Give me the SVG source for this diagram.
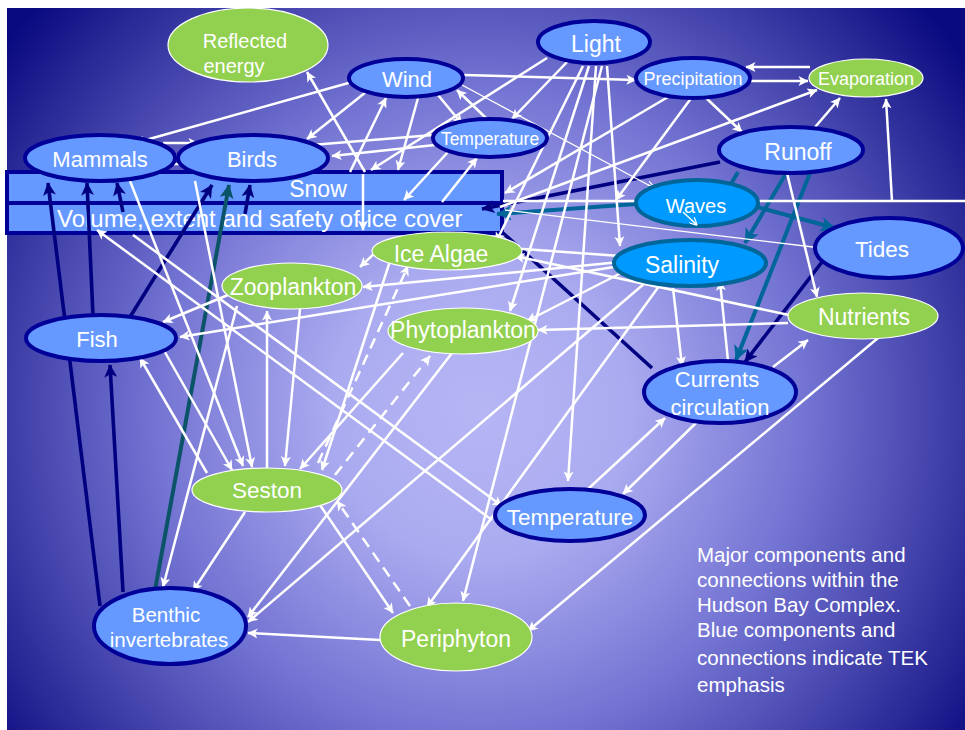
<svg xmlns="http://www.w3.org/2000/svg" width="965" height="730" viewBox="0 0 965 730">
<defs>
<radialGradient id="bg" gradientUnits="userSpaceOnUse" cx="480" cy="410" r="600">
<stop offset="0" stop-color="#b6b6f5"/>
<stop offset="0.25" stop-color="#aaaaf0"/>
<stop offset="0.55" stop-color="#7272d2"/>
<stop offset="0.8" stop-color="#3a3aa4"/>
<stop offset="1" stop-color="#0a0a80"/>
</radialGradient>
<marker id="aw" viewBox="0 0 10 10" refX="9.5" refY="5" markerWidth="11" markerHeight="10" markerUnits="userSpaceOnUse" orient="auto"><path d="M0,0 L10,5 L0,10 L2.5,5 z" fill="#fff"/></marker>
<marker id="aws" viewBox="0 0 10 10" refX="9.5" refY="5" markerWidth="8" markerHeight="8" markerUnits="userSpaceOnUse" orient="auto"><path d="M0,0 L10,5 L0,10 M10,5 L0,5" fill="none" stroke="#fff" stroke-width="1.5"/></marker>
<marker id="an" viewBox="0 0 10 10" refX="9.5" refY="5" markerWidth="15" markerHeight="13" markerUnits="userSpaceOnUse" orient="auto"><path d="M0,0 L10,5 L0,10 L2.5,5 z" fill="#000080"/></marker>
<marker id="at" viewBox="0 0 10 10" refX="9.5" refY="5" markerWidth="17" markerHeight="15" markerUnits="userSpaceOnUse" orient="auto"><path d="M0,0 L10,5 L0,10 L2.5,5 z" fill="#006699"/></marker>
<marker id="atd" viewBox="0 0 10 10" refX="9.5" refY="5" markerWidth="16" markerHeight="14" markerUnits="userSpaceOnUse" orient="auto"><path d="M0,0 L10,5 L0,10 L2.5,5 z" fill="#0b5468"/></marker>
<style>
.bl{fill:#6699ff;stroke:#000099;stroke-width:4}
.aq{fill:#0099ff;stroke:#006699;stroke-width:4}
.gr{fill:#92d050;stroke:#ffffff;stroke-width:1.2}
text{font-family:"Liberation Sans",Arial,sans-serif;fill:#ffffff;text-anchor:middle}
.cap{text-anchor:start;font-size:20.5px}
.w{stroke:#ffffff;stroke-width:2.5;fill:none;marker-end:url(#aw)}
.wn{stroke:#ffffff;stroke-width:2.5;fill:none}
.wt{stroke:#ffffff;stroke-width:1.4;fill:none}
.wd{stroke:#ffffff;stroke-width:2.5;fill:none;stroke-dasharray:11 7;marker-end:url(#aw)}
.n{stroke:#000080;stroke-width:3.6;fill:none;marker-end:url(#an)}
.nn{stroke:#000080;stroke-width:3.6;fill:none}
.t{stroke:#006699;stroke-width:4;fill:none;marker-end:url(#at)}
.tn{stroke:#006699;stroke-width:4;fill:none}
.td{stroke:#0b5468;stroke-width:4;fill:none;marker-end:url(#atd)}
</style>
</defs>
<rect x="0" y="0" width="965" height="730" fill="#ffffff"/>
<rect x="7" y="8" width="958" height="722" fill="url(#bg)"/>

<g id="ice-cover">
<rect x="7" y="172" width="495" height="31" fill="#6699ff" stroke="#000099" stroke-width="4"/>
<rect x="7" y="203" width="495" height="30" fill="#6699ff" stroke="#000099" stroke-width="4"/>
<text x="318" y="197" font-size="23">Snow</text>
<text x="57" y="227" font-size="24" style="text-anchor:start">Volume, extent and safety of ice cover</text>
</g>

<g id="connectors">
<line class="n" x1="100" y1="606" x2="48" y2="183"/>
<line class="n" x1="93" y1="316" x2="87" y2="183"/>
<line class="n" x1="123" y1="212" x2="117" y2="183"/>
<line class="n" x1="123" y1="592" x2="110" y2="365"/>
<line class="n" x1="130" y1="317" x2="212" y2="185"/>
<line class="n" x1="245" y1="214" x2="250" y2="185"/>
<line class="n" x1="720" y1="162" x2="482" y2="209"/>
<line class="nn" x1="652" y1="368" x2="503" y2="233"/>
<line class="n" x1="822" y1="262" x2="745" y2="362"/>
<line class="td" x1="155" y1="590" x2="229" y2="185"/>
<line class="tn" x1="738" y1="172" x2="731" y2="184"/>
<line class="t" x1="636" y1="204" x2="497" y2="214"/>
<line class="t" x1="788" y1="170" x2="745" y2="243"/>
<line class="t" x1="812" y1="168" x2="736" y2="360"/>
<line class="t" x1="757" y1="207" x2="835" y2="228"/>
<line class="w" x1="352" y1="82" x2="135" y2="143"/>
<line class="w" x1="433" y1="135" x2="152" y2="158"/>
<line class="w" x1="435" y1="145" x2="332" y2="156"/>
<line class="w" x1="163" y1="143" x2="198" y2="143"/>
<line class="w" x1="192" y1="164" x2="158" y2="164"/>
<line class="w" x1="365" y1="172" x2="307" y2="72"/>
<line class="w" x1="366" y1="92" x2="307" y2="139"/>
<line class="w" x1="363" y1="174" x2="363" y2="230"/>
<line class="w" x1="464" y1="75" x2="636" y2="80"/>
<line class="wt" x1="462" y1="85" x2="654" y2="188" marker-end="url(#aws)"/>
<line class="w" x1="438" y1="95" x2="462" y2="124"/>
<line class="w" x1="487" y1="119" x2="457" y2="90"/>
<line class="w" x1="350" y1="172" x2="386" y2="98"/>
<line class="w" x1="418" y1="98" x2="398" y2="170"/>
<line class="w" x1="448" y1="152" x2="404" y2="200"/>
<line class="w" x1="442" y1="202" x2="477" y2="158"/>
<line class="w" x1="547" y1="58" x2="371" y2="170"/>
<line class="w" x1="568" y1="61" x2="512" y2="119"/>
<line class="w" x1="810" y1="67" x2="746" y2="67"/>
<line class="w" x1="750" y1="81" x2="808" y2="81"/>
<line class="w" x1="705" y1="97" x2="742" y2="132"/>
<line class="w" x1="810" y1="133" x2="840" y2="98"/>
<line class="w" x1="500" y1="207" x2="817" y2="90"/>
<line class="w" x1="668" y1="97" x2="505" y2="193"/>
<line class="w" x1="692" y1="97" x2="616" y2="200"/>
<line class="wn" x1="503" y1="201" x2="965" y2="201"/>
<line class="w" x1="892" y1="201" x2="886" y2="99"/>
<line class="w" x1="583" y1="66" x2="496" y2="242"/>
<line class="w" x1="589" y1="66" x2="510" y2="311"/>
<line class="w" x1="596" y1="66" x2="568" y2="481"/>
<line class="w" x1="602" y1="66" x2="463" y2="601"/>
<line class="w" x1="607" y1="66" x2="620" y2="246"/>
<line class="wt" x1="505" y1="210" x2="813" y2="247"/>
<line class="w" x1="620" y1="256" x2="509" y2="248"/>
<line class="w" x1="789" y1="315" x2="515" y2="256"/>
<line class="w" x1="378" y1="250" x2="360" y2="267"/>
<line class="w" x1="620" y1="262" x2="363" y2="287"/>
<line class="w" x1="620" y1="266" x2="180" y2="337"/>
<line class="w" x1="228" y1="295" x2="163" y2="322"/>
<line class="w" x1="267" y1="468" x2="267" y2="311"/>
<line class="w" x1="300" y1="309" x2="285" y2="466"/>
<line class="w" x1="237" y1="306" x2="163" y2="587"/>
<line class="w" x1="162" y1="347" x2="232" y2="470"/>
<line class="w" x1="207" y1="473" x2="140" y2="358"/>
<line class="w" x1="130" y1="181" x2="243" y2="466"/>
<line class="w" x1="195" y1="181" x2="252" y2="467"/>
<line class="w" x1="392" y1="255" x2="322" y2="470"/>
<line class="w" x1="403" y1="353" x2="300" y2="469"/>
<line class="wd" x1="318" y1="463" x2="408" y2="266"/>
<line class="wd" x1="335" y1="475" x2="430" y2="356"/>
<line class="wd" x1="410" y1="606" x2="337" y2="501"/>
<line class="w" x1="320" y1="505" x2="393" y2="613"/>
<line class="w" x1="245" y1="512" x2="193" y2="591"/>
<line class="w" x1="452" y1="353" x2="248" y2="617"/>
<line class="w" x1="645" y1="283" x2="248" y2="622"/>
<line class="w" x1="380" y1="640" x2="248" y2="633"/>
<line class="w" x1="878" y1="338" x2="528" y2="631"/>
<line class="w" x1="662" y1="282" x2="427" y2="607"/>
<line class="w" x1="697" y1="422" x2="623" y2="494"/>
<line class="w" x1="588" y1="489" x2="665" y2="418"/>
<line class="w" x1="773" y1="367" x2="808" y2="340"/>
<line class="w" x1="673" y1="288" x2="682" y2="366"/>
<line class="w" x1="728" y1="361" x2="720" y2="281"/>
<line class="w" x1="787" y1="173" x2="817" y2="297"/>
<line class="w" x1="788" y1="323" x2="538" y2="330"/>
<line class="w" x1="625" y1="271" x2="527" y2="321"/>
<line class="w" x1="133" y1="235" x2="502" y2="506"/>
<line class="w" x1="492" y1="520" x2="97" y2="230"/>
</g>

<g id="reflected-energy"><ellipse class="gr" cx="248" cy="45" rx="80" ry="37"/><text x="245" y="48" font-size="20">Reflected</text><text x="234" y="73" font-size="20">energy</text></g>
<g id="light"><ellipse class="bl" cx="594" cy="42" rx="56" ry="21"/><text x="596" y="52" font-size="23">Light</text></g>
<g id="wind"><ellipse class="bl" cx="406" cy="78" rx="57" ry="19"/><text x="407" y="87" font-size="22">Wind</text></g>
<g id="precipitation"><ellipse class="bl" cx="693" cy="78" rx="57" ry="20"/><text x="693" y="85" font-size="18">Precipitation</text></g>
<g id="evaporation"><ellipse class="gr" cx="866" cy="78" rx="57" ry="19"/><text x="866" y="85" font-size="18">Evaporation</text></g>
<g id="temperature-air"><ellipse class="bl" cx="490" cy="138" rx="57" ry="19"/><text x="490" y="145" font-size="17.5">Temperature</text></g>
<g id="mammals"><ellipse class="bl" cx="100" cy="158" rx="75" ry="23"/><text x="100" y="167" font-size="22">Mammals</text></g>
<g id="birds"><ellipse class="bl" cx="253" cy="158" rx="75" ry="23"/><text x="252" y="167" font-size="22">Birds</text></g>
<g id="runoff"><ellipse class="bl" cx="791" cy="150" rx="72" ry="23"/><text x="798" y="160" font-size="23">Runoff</text></g>
<g id="waves"><ellipse class="aq" cx="697" cy="203" rx="61" ry="23"/><text x="696" y="213" font-size="20">Waves</text></g>
<g id="tides"><ellipse class="bl" cx="889" cy="248" rx="74" ry="30"/><text x="882" y="257" font-size="22.5">Tides</text></g>
<g id="salinity"><ellipse class="aq" cx="690" cy="263" rx="76" ry="23"/><text x="682" y="273" font-size="23">Salinity</text></g>
<g id="ice-algae"><ellipse class="gr" cx="447" cy="251" rx="75" ry="19"/><text x="441" y="262" font-size="23">Ice Algae</text></g>
<g id="zooplankton"><ellipse class="gr" cx="292" cy="286" rx="70" ry="23"/><text x="293" y="295" font-size="23">Zooplankton</text></g>
<g id="phytoplankton"><ellipse class="gr" cx="463" cy="331" rx="75" ry="23"/><text x="463" y="338" font-size="23">Phytoplankton</text></g>
<g id="fish"><ellipse class="bl" cx="101" cy="338" rx="75" ry="23"/><text x="97" y="347" font-size="22">Fish</text></g>
<g id="nutrients"><ellipse class="gr" cx="863" cy="316" rx="75" ry="23"/><text x="864" y="325" font-size="23">Nutrients</text></g>
<g id="currents"><ellipse class="bl" cx="720" cy="392" rx="76" ry="31"/><text x="717" y="387" font-size="22">Currents</text><text x="720" y="415" font-size="22">circulation</text></g>
<g id="seston"><ellipse class="gr" cx="267" cy="490" rx="75" ry="22"/><text x="267" y="498" font-size="22.5">Seston</text></g>
<g id="temperature-water"><ellipse class="bl" cx="570" cy="515" rx="75" ry="26"/><text x="570" y="525" font-size="22.5">Temperature</text></g>
<g id="benthic"><ellipse class="bl" cx="170" cy="626" rx="76" ry="38"/><text x="166" y="622" font-size="20.5">Benthic</text><text x="169" y="647" font-size="20.5">invertebrates</text></g>
<g id="periphyton"><ellipse class="gr" cx="456" cy="637" rx="76" ry="34"/><text x="456" y="647" font-size="23">Periphyton</text></g>

<g id="connectors-over">
<line class="wt" x1="683" y1="212" x2="697" y2="225" marker-end="url(#aws)"/>
</g>

<g id="caption">
<text class="cap" x="697" y="562">Major components and</text>
<text class="cap" x="697" y="587">connections within the</text>
<text class="cap" x="697" y="612">Hudson Bay Complex.</text>
<text class="cap" x="697" y="637">Blue components and</text>
<text class="cap" x="697" y="665">connections indicate TEK</text>
<text class="cap" x="697" y="692">emphasis</text>
</g>
</svg>
